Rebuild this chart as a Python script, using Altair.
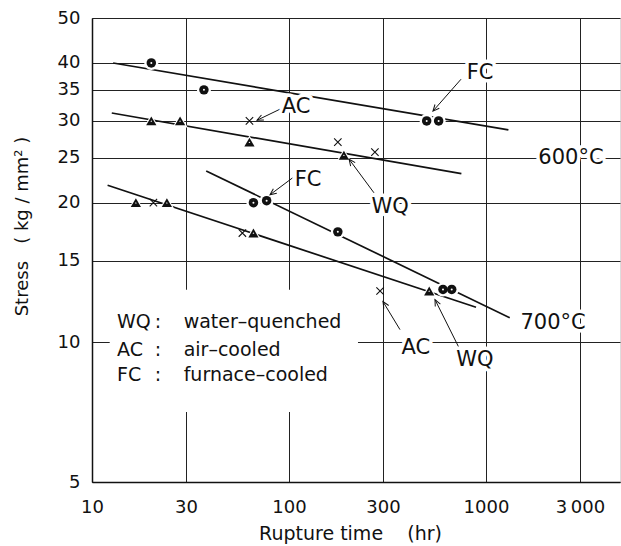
import math
import altair as alt
import pandas as pd

# ---------------- data ----------------
# furnace-cooled specimens (circles)
fc_time = [20, 37, 500, 575, 66, 77, 177, 605, 670]
fc_stress = [40, 35, 30, 30, 20, 20.2, 17.3, 13.0, 13.0]
# water-quenched specimens (triangles)
wq_time = [20, 28, 63, 190, 16.7, 24, 66, 515]
wq_stress = [30, 30, 27, 25.3, 20, 20, 17.2, 12.9]
# air-cooled specimens (crosses)
ac_time = [63, 177, 273, 20.5, 58, 290]
ac_stress = [30, 27, 25.7, 20, 17.2, 12.9]

# trend lines (two end points each)
line_id = ["600FC", "600FC", "600WQ", "600WQ", "700FC", "700FC", "700WQ", "700WQ"]
line_time = [12.8, 1300, 12.6, 750, 38, 1320, 12, 890]
line_stress = [40.0, 28.7, 31.2, 23.1, 23.4, 11.3, 21.8, 11.9]

# annotation labels
label_text = ["FC", "AC", "600°C", "WQ", "FC", "700°C", "AC", "WQ"]
label_time = [933, 108.5, 2700, 326, 125, 2190, 441, 879]
label_stress = [38.0, 32.1, 25.0, 19.6, 22.4, 11.03, 9.74, 9.18]

# leader arrows (label -> point)
arrow_time1 = [747, 90, 270, 104, 366, 738]
arrow_stress1 = [36.9, 31.8, 21.0, 22.6, 10.65, 9.64]
arrow_time2 = [538, 68.8, 202, 80.1, 300, 551]
arrow_stress2 = [31.5, 30.1, 24.8, 20.8, 12.24, 12.36]

# legend text
legend_abbr = ["WQ", "AC", "FC"]
legend_desc = ["water\u2013quenched", "air\u2013cooled", "furnace\u2013cooled"]
legend_stress = [11.08, 9.64, 8.51]
legend_abbr_time = 13.4
legend_colon_time = 21.6
legend_desc_time = 29.2
legend_box_time = [12.3, 224]
legend_box_stress = [7.08, 12.98]

# axes
x_ticks = [10, 30, 100, 300, 1000, 3000]
y_ticks = [5, 10, 15, 20, 25, 30, 35, 40, 50]

# ---------------- chart ----------------
FONT = "DejaVu Sans"
INK = "#111111"
XMIN, XMAX = 10, 4790
YMIN, YMAX = 5, 50
W, H = 528, 464

xs = alt.Scale(type="log", domain=[XMIN, XMAX], nice=False)
ys = alt.Scale(type="log", domain=[YMIN, YMAX], nice=False)

x_axis = alt.Axis(
    values=x_ticks, grid=True, ticks=False, labelFlush=False, labelOverlap=False,
    labelExpr="datum.value == 3000 ? '3\u2009000' : format(datum.value, 'd')",
    labelFont=FONT, labelFontSize=18, labelColor=INK, labelPadding=16,
    title="Rupture time\u00a0\u00a0\u00a0\u00a0(hr)", titleFont=FONT, titleFontSize=19,
    titleFontWeight="normal", titleColor=INK, titlePadding=8, titleX=258,
    domainColor=INK, domainWidth=1.5, gridColor="#222222", gridWidth=1, gridOpacity=1,
)
y_axis = alt.Axis(
    values=y_ticks, grid=True, ticks=False, labelFlush=False, labelOverlap=False,
    labelExpr="format(datum.value, 'd')",
    labelFont=FONT, labelFontSize=18, labelColor=INK, labelPadding=12,
    title="Stress\u00a0\u00a0\u00a0(\u00a0kg\u00a0/\u00a0mm²\u00a0)", titleFont=FONT, titleFontSize=18,
    titleFontWeight="normal", titleColor=INK, titleX=-70, titleY=208,
    titleAlign="center", titleBaseline="middle", titleAngle=270,
    domainColor=INK, domainWidth=1.5, gridColor="#222222", gridWidth=1, gridOpacity=1,
)

lines_df = pd.DataFrame({"id": line_id, "t": line_time, "s": line_stress})
fc_df = pd.DataFrame({"t": fc_time, "s": fc_stress})
wq_df = pd.DataFrame({"t": wq_time, "s": wq_stress})
ac_df = pd.DataFrame({"t": ac_time, "s": ac_stress})
lab_df = pd.DataFrame({"txt": label_text, "t": label_time, "s": label_stress})


def px(t):
    return W * (math.log10(t) - math.log10(XMIN)) / (math.log10(XMAX) - math.log10(XMIN))


def py(s):
    return H * (1 - (math.log10(s) - math.log10(YMIN)) / (math.log10(YMAX) - math.log10(YMIN)))


angles = []
for a, b, c, d in zip(arrow_time1, arrow_stress1, arrow_time2, arrow_stress2):
    dx = px(c) - px(a)
    dy = py(d) - py(b)
    angles.append(math.degrees(math.atan2(dx, -dy)) % 360)
arr_df = pd.DataFrame({"t1": arrow_time1, "s1": arrow_stress1,
                       "t2": arrow_time2, "s2": arrow_stress2, "ang": angles})

leg_df = pd.DataFrame({"abbr": legend_abbr, "desc": legend_desc, "s": legend_stress})
leg_df["ta"] = legend_abbr_time
leg_df["tc"] = legend_colon_time
leg_df["td"] = legend_desc_time
leg_df["colon"] = ":"
box_df = pd.DataFrame({"t1": [legend_box_time[0]], "t2": [legend_box_time[1]],
                       "s1": [legend_box_stress[0]], "s2": [legend_box_stress[1]]})


def XX(field):
    return alt.X(field, scale=xs, axis=x_axis)


def YY(field):
    return alt.Y(field, scale=ys, axis=y_axis)


X = XX("t:Q")
Y = YY("s:Q")

lines = alt.Chart(lines_df).mark_line(color=INK, strokeWidth=1.7).encode(
    x=X, y=Y, detail="id:N",
)

box = alt.Chart(box_df).mark_rect(color="white").encode(
    x=XX("t1:Q"), x2="t2:Q", y=YY("s1:Q"), y2="s2:Q",
)

halo_c = alt.Chart(fc_df).mark_point(shape="circle", filled=True, color="white", opacity=1, size=200).encode(x=X, y=Y)
halo_t = alt.Chart(wq_df).mark_point(shape="triangle-up", filled=True, color="white", opacity=1, size=230).encode(x=X, y=Y)

circ = alt.Chart(fc_df).mark_point(shape="circle", filled=True, color=INK, opacity=1, size=90).encode(x=X, y=Y)
circ_dot = alt.Chart(fc_df).mark_point(shape="circle", filled=True, color="white", opacity=1, size=4).encode(x=X, y=Y)
tri = alt.Chart(wq_df).mark_point(shape="triangle-up", filled=True, color=INK, opacity=1, size=105).encode(x=X, y=Y)
tri_dot = alt.Chart(wq_df).mark_point(shape="triangle-up", filled=True, color="white", opacity=1, size=3).encode(x=X, y=Y)
cross = alt.Chart(ac_df).mark_point(shape="M-1,-1L1,1M-1,1L1,-1", filled=False, color=INK,
                                    opacity=1, strokeWidth=1.1, size=55).encode(x=X, y=Y)

arrows = alt.Chart(arr_df).mark_rule(color=INK, strokeWidth=1).encode(
    x=XX("t1:Q"), x2="t2:Q", y=YY("s1:Q"), y2="s2:Q",
)
heads = alt.Chart(arr_df).mark_point(shape="M-0.45,1L0,0L0.45,1", filled=False, color=INK,
                                     opacity=1, strokeWidth=1, size=160).encode(
    x=XX("t2:Q"), y=YY("s2:Q"),
    angle=alt.Angle("ang:Q", scale=None),
)

lab_halo = alt.Chart(lab_df).mark_text(font=FONT, fontSize=21, color="white", stroke="white",
                                        strokeWidth=7, strokeJoin="round",
                                        align="center", baseline="middle").encode(x=X, y=Y, text="txt:N")
labels = alt.Chart(lab_df).mark_text(font=FONT, fontSize=21, color=INK,
                                      align="center", baseline="middle").encode(x=X, y=Y, text="txt:N")

leg_abbr = alt.Chart(leg_df).mark_text(font=FONT, fontSize=19, color=INK, align="left", baseline="middle").encode(
    x=XX("ta:Q"), y=Y, text="abbr:N")
leg_colon = alt.Chart(leg_df).mark_text(font=FONT, fontSize=19, color=INK, align="center", baseline="middle").encode(
    x=XX("tc:Q"), y=Y, text="colon:N")
leg_desc = alt.Chart(leg_df).mark_text(font=FONT, fontSize=19, color=INK, align="left", baseline="middle").encode(
    x=XX("td:Q"), y=Y, text="desc:N")

chart = alt.layer(
    lines, box, halo_c, halo_t, circ, circ_dot, tri, tri_dot, cross,
    arrows, heads, lab_halo, labels, leg_abbr, leg_colon, leg_desc,
).properties(
    width=W, height=H,
    autosize=alt.AutoSizeParams(type="none"),
    padding={"left": 92, "top": 18, "right": 1, "bottom": 64},
).configure_view(strokeWidth=0).configure(background="white")

chart.save("out.html", embed_options={"renderer": "svg", "actions": False})
